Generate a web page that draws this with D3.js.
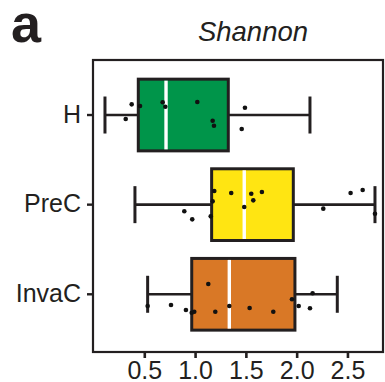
<!DOCTYPE html>
<html>
<head>
<meta charset="utf-8">
<script src="https://cdn.jsdelivr.net/npm/d3@7"></script>
<style>
  html, body { margin: 0; padding: 0; background: #fff; }
  svg { display: block; }
  text { font-family: "Liberation Sans", Arial, Helvetica, sans-serif; fill: #231f20; }
</style>
</head>
<body>
<svg id="chart" width="385" height="382"></svg>
<script>
// Groups, top to bottom
const groups = ["H", "PreC", "InvaC"];
const fills = ["#00954a", "#ffe512", "#d97826"];

// Box statistics per group: lower whisker, Q1, median, Q3, upper whisker
const lowerWhisker = [0.113, 0.408, 0.533];
const q1 = [0.441, 1.163, 0.967];
const median = [0.714, 1.484, 1.337];
const q3 = [1.327, 1.967, 1.983];
const upperWhisker = [2.131, 2.771, 2.400];

// Individual Shannon values per sample
const valuesH = [0.376, 0.317, 0.458, 0.681, 0.707, 1.022, 1.173, 1.186, 1.491, 1.459];
const valuesPreC = [0.894, 0.972, 1.154, 1.173, 1.189, 1.356, 1.484, 1.553, 1.573, 1.658, 2.262, 2.531, 2.650, 2.771];
const valuesInvaC = [0.533, 0.763, 0.910, 0.967, 0.992, 1.130, 1.199, 1.337, 1.537, 1.770, 1.954, 2.020, 2.131, 2.157];

// Vertical jitter of each sample, as a fraction of the box height
const jitterH = [-0.149, 0.056, -0.126, -0.177, -0.116, -0.181, 0.079, 0.149, -0.102, 0.195];
const jitterPreC = [0.093, 0.205, 0.163, -0.046, -0.191, -0.163, 0.032, -0.153, -0.060, -0.177, 0.056, -0.163, -0.205, 0.126];
const jitterInvaC = [0.163, 0.149, 0.219, 0.257, 0.243, -0.144, 0.243, 0.163, 0.191, 0.243, 0.070, 0.163, 0.195, -0.014];

const xTicks = [0.5, 1.0, 1.5, 2.0, 2.5];
const xDomain = [0, 2.85];

const samples = [valuesH, valuesPreC, valuesInvaC];
const jitters = [jitterH, jitterPreC, jitterInvaC];

const ink = "#231f20";
const frame = { left: 93, right: 383, top: 60, bottom: 352 };

const svg = d3.select("#chart");

const x = d3.scaleLinear().domain(xDomain).range([93.5, 383]);
const y = d3.scaleBand().domain(groups).range([70.2, 339.1])
  .paddingInner(0.2).paddingOuter(0.1);
const bw = y.bandwidth();

// Panel letter and title
svg.append("text").attr("x", 11).attr("y", 42)
  .attr("font-size", 54).attr("font-weight", "bold").text("a");
svg.append("text").attr("x", 253).attr("y", 41)
  .attr("text-anchor", "middle").attr("font-size", 27.5)
  .attr("font-style", "italic").text("Shannon");

// Bottom axis
const xAxis = svg.append("g")
  .attr("transform", `translate(0,${frame.bottom})`)
  .call(d3.axisBottom(x).tickValues(xTicks).tickFormat(d3.format(".1f"))
    .tickSize(6).tickSizeOuter(0).tickPadding(3));
xAxis.select(".domain").remove();
xAxis.selectAll(".tick line").attr("stroke", ink).attr("stroke-width", 2.6);
xAxis.selectAll(".tick text").attr("font-size", 25).attr("fill", ink)
  .attr("font-family", "'Liberation Sans', Arial, sans-serif");

// Left axis (category labels)
const yAxis = svg.append("g")
  .attr("transform", `translate(${frame.left},0)`)
  .call(d3.axisLeft(y).tickSize(6).tickSizeOuter(0).tickPadding(6));
yAxis.select(".domain").remove();
yAxis.selectAll(".tick line").attr("stroke", ink).attr("stroke-width", 2.4);
yAxis.selectAll(".tick text").attr("font-size", 25).attr("fill", ink)
  .attr("dy", "0.3em")
  .attr("font-family", "'Liberation Sans', Arial, sans-serif");

// Boxes
const rows = groups.map((g, i) => ({
  g, i, lw: lowerWhisker[i], q1: q1[i], med: median[i], q3: q3[i], uw: upperWhisker[i]
}));

const box = svg.append("g").selectAll("g").data(rows).join("g")
  .attr("transform", d => `translate(0,${y(d.g)})`);

// whisker stems
box.append("line")
  .attr("x1", d => x(d.lw)).attr("x2", d => x(d.q1))
  .attr("y1", bw / 2).attr("y2", bw / 2)
  .attr("stroke", ink).attr("stroke-width", 2.6);
box.append("line")
  .attr("x1", d => x(d.q3)).attr("x2", d => x(d.uw))
  .attr("y1", bw / 2).attr("y2", bw / 2)
  .attr("stroke", ink).attr("stroke-width", 2.6);
// whisker caps
box.selectAll("line.cap").data(d => [d.lw, d.uw]).join("line")
  .attr("class", "cap")
  .attr("x1", v => x(v)).attr("x2", v => x(v))
  .attr("y1", bw / 2 - 18.5).attr("y2", bw / 2 + 18.5)
  .attr("stroke", ink).attr("stroke-width", 3);
// box body
box.append("rect")
  .attr("x", d => x(d.q1)).attr("width", d => x(d.q3) - x(d.q1))
  .attr("y", 0).attr("height", bw)
  .attr("fill", d => fills[d.i])
  .attr("stroke", ink).attr("stroke-width", 3);
// median
box.append("line")
  .attr("x1", d => x(d.med)).attr("x2", d => x(d.med))
  .attr("y1", 1.5).attr("y2", bw - 1.5)
  .attr("stroke", "#fff").attr("stroke-width", 3.4);
// sample points
box.selectAll("circle").data(d => samples[d.i].map((v, k) => ({ v, j: jitters[d.i][k] })))
  .join("circle")
  .attr("cx", p => x(p.v))
  .attr("cy", p => bw / 2 + p.j * bw)
  .attr("r", 2.3)
  .attr("fill", "#111");

// Panel frame
svg.append("rect")
  .attr("x", frame.left).attr("y", frame.top)
  .attr("width", frame.right - frame.left).attr("height", frame.bottom - frame.top)
  .attr("fill", "none").attr("stroke", ink).attr("stroke-width", 2.2);
</script>
</body>
</html>
